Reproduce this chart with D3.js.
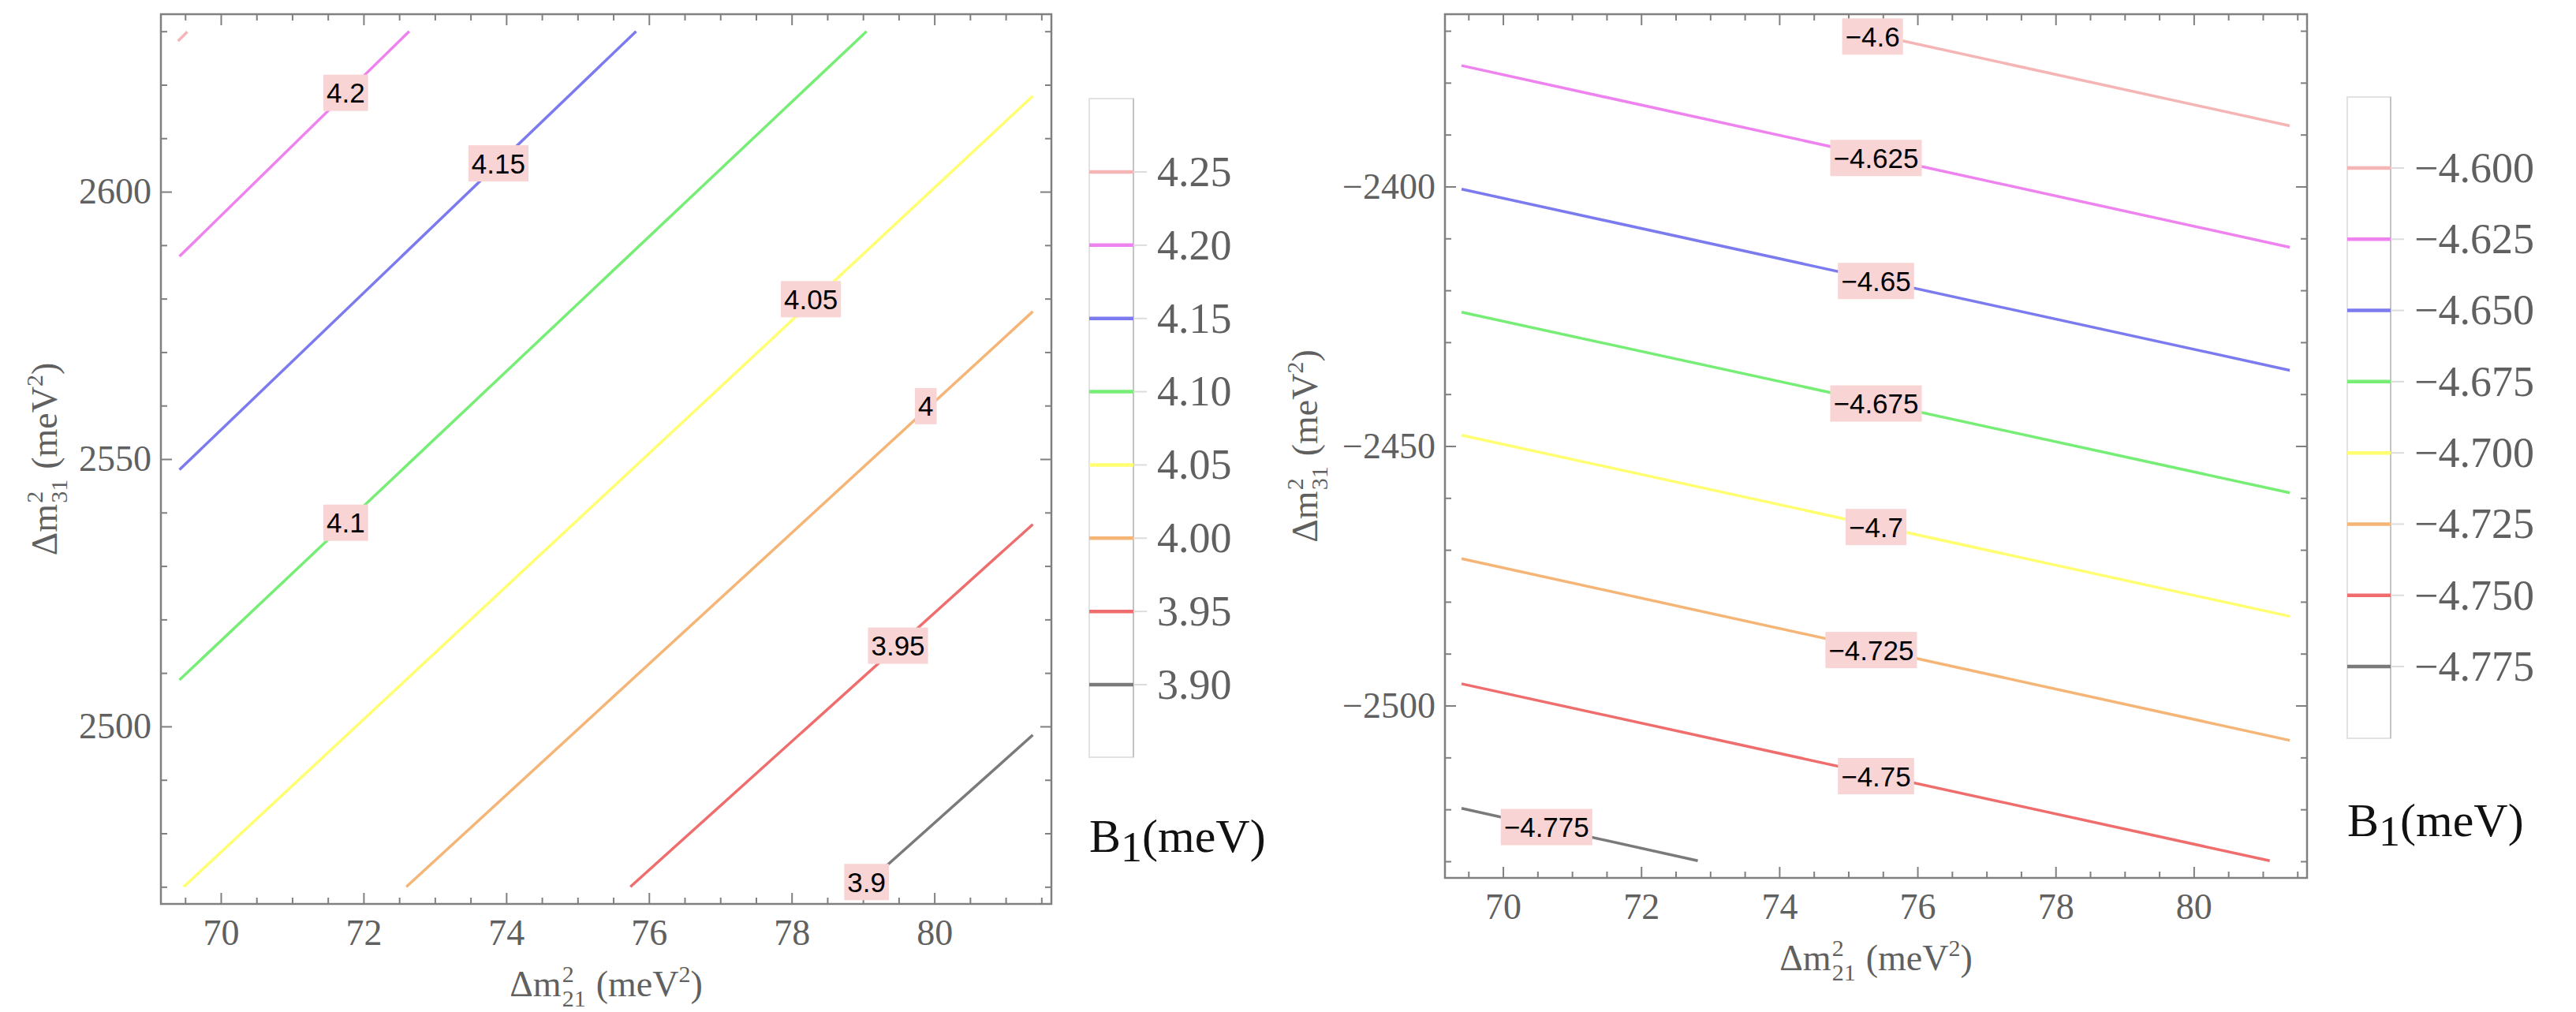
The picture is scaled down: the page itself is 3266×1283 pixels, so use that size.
<!DOCTYPE html>
<html>
<head>
<meta charset="utf-8">
<script src="https://cdn.jsdelivr.net/npm/d3@7"></script>
<style>
  body { margin: 0; background: #fff; }
  svg { display: block; }
</style>
</head>
<body>
<svg id="chart" width="3266" height="1283"></svg>
<script>
// ---- data ----
var xMajorTicks = [70, 72, 74, 76, 78, 80];
var xRange = [69.4, 81.4];

// left panel (normal ordering)
var leftYRange = [2470, 2630];
var leftYMajorTicks = [2500, 2550, 2600];
var leftLevels = [4.25, 4.20, 4.15, 4.10, 4.05, 4.00, 3.95, 3.90];
var leftLegendText = ['4.25', '4.20', '4.15', '4.10', '4.05', '4.00', '3.95', '3.90'];
var leftLineStart = [[69.40, 2628.2], [69.42, 2587.9], [69.42, 2548.0], [69.42, 2508.7],
                     [69.48, 2470.0], [72.60, 2470.0], [75.74, 2470.0], [79.00, 2470.0]];
var leftLineEnd = [[69.53, 2629.9], [72.64, 2630.0], [75.82, 2630.0], [79.05, 2630.0],
                   [81.38, 2617.9], [81.38, 2577.6], [81.38, 2537.8], [81.38, 2498.4]];
var leftLabelText = [null, '4.2', '4.15', '4.1', '4.05', '4', '3.95', '3.9'];
var leftLabelPos = [null, [71.75, 2618.5], [73.89, 2605.3], [71.75, 2538.1],
                    [78.27, 2579.9], [79.88, 2559.9], [79.49, 2515.1], [79.05, 2470.9]];

// right panel (inverted ordering)
var rightYRange = [-2530, -2370];
var rightYMajorTicks = [-2500, -2450, -2400];
var rightLevels = [-4.600, -4.625, -4.650, -4.675, -4.700, -4.725, -4.750, -4.775];
var rightLegendText = ['\u22124.600', '\u22124.625', '\u22124.650', '\u22124.675',
                       '\u22124.700', '\u22124.725', '\u22124.750', '\u22124.775'];
var rightLineStart = [[75.12, -2370.0], [69.40, -2376.7], [69.40, -2400.5], [69.40, -2424.2],
                      [69.40, -2447.9], [69.40, -2471.7], [69.40, -2495.8], [69.40, -2519.8]];
var rightLineEnd = [[81.39, -2388.3], [81.39, -2411.7], [81.39, -2435.4], [81.39, -2459.0],
                    [81.39, -2482.8], [81.39, -2506.7], [81.10, -2529.9], [72.82, -2529.9]];
var rightLabelText = ['\u22124.6', '\u22124.625', '\u22124.65', '\u22124.675',
                      '\u22124.7', '\u22124.725', '\u22124.75', '\u22124.775'];
var rightLabelPos = [[75.35, -2371.1], [75.40, -2394.5], [75.40, -2418.2], [75.40, -2441.8],
                     [75.40, -2465.6], [75.33, -2489.3], [75.40, -2513.6], [70.63, -2523.4]];

var contourColors = ['#f5b5b5', '#ee82ee', '#7b7bef', '#76ee76',
                     '#ffff70', '#f5b577', '#ef6d6d', '#7a7a7a'];

// ---- helpers ----
var svg = d3.select('#chart');
svg.append('rect').attr('width', 3266).attr('height', 1283).attr('fill', '#fff');

var serif = '"Liberation Serif", "Times New Roman", serif';
var sans = '"Liberation Sans", Arial, sans-serif';
var axisGray = '#808080';
var textGray = '#606060';

function padded(r) {
  var p = (r[1] - r[0]) * 0.02;
  return [r[0] - p, r[1] + p];
}

// Δm^2_ij (meV^2) with the 2 stacked over the subscript, Mathematica style
function massTitle(parent, sub, fs) {
  var small = Math.round(0.66 * fs);
  var g = parent.append('g')
    .attr('font-family', serif).attr('font-size', fs).attr('fill', textGray);
  var inner = g.append('g');
  var t1 = inner.append('text').attr('x', 0).attr('y', 0).text('\u0394m');
  var w = t1.node().getComputedTextLength();
  inner.append('text').attr('x', w + 1).attr('y', -0.40 * fs).attr('font-size', small).text('2');
  var s = inner.append('text').attr('x', w + 1).attr('y', 0.28 * fs).attr('font-size', small).text(sub);
  var w2 = s.node().getComputedTextLength();
  var rest = inner.append('text').attr('x', w + w2 + 14).attr('y', 0);
  rest.append('tspan').text('(meV');
  rest.append('tspan').attr('dy', -0.40 * fs).attr('font-size', small).text('2');
  rest.append('tspan').attr('dy', 0.40 * fs).text(')');
  var bb = inner.node().getBBox();
  inner.attr('transform', 'translate(' + (-bb.x - bb.width / 2) + ',0)');
  return g;
}

function drawPanel(cfg) {
  var x = d3.scaleLinear().domain(padded(xRange)).range([cfg.frame.x0, cfg.frame.x1]);
  var y = d3.scaleLinear().domain(padded(cfg.yRange)).range([cfg.frame.y1, cfg.frame.y0]);
  var g = svg.append('g');

  var xMinor = d3.range(69.5, 81.6, 0.5).filter(function(v) { return xMajorTicks.indexOf(v) < 0; });
  var yMinor = d3.range(cfg.yRange[0], cfg.yRange[1] + 1, 10)
    .filter(function(v) { return cfg.yMajor.indexOf(v) < 0; });

  // frame ticks on all four sides, pointing inward
  function styleAxis(sel) {
    sel.select('.domain').remove();
    sel.selectAll('.tick line').attr('stroke', axisGray).attr('stroke-width', 2);
    sel.selectAll('.tick text').attr('font-family', serif).attr('font-size', 46).attr('fill', textGray);
  }
  var H = cfg.frame.y1, T = cfg.frame.y0, L = cfg.frame.x0, R = cfg.frame.x1;
  g.append('g').attr('transform', 'translate(0,' + H + ')')
    .call(d3.axisBottom(x).tickValues(xMajorTicks).tickSize(-14).tickPadding(19).tickFormat(d3.format('d')))
    .call(styleAxis);
  g.append('g').attr('transform', 'translate(0,' + H + ')')
    .call(d3.axisBottom(x).tickValues(xMinor).tickSize(-8).tickFormat('')).call(styleAxis);
  g.append('g').attr('transform', 'translate(0,' + T + ')')
    .call(d3.axisTop(x).tickValues(xMajorTicks).tickSize(-14).tickFormat('')).call(styleAxis);
  g.append('g').attr('transform', 'translate(0,' + T + ')')
    .call(d3.axisTop(x).tickValues(xMinor).tickSize(-8).tickFormat('')).call(styleAxis);
  g.append('g').attr('transform', 'translate(' + L + ',0)')
    .call(d3.axisLeft(y).tickValues(cfg.yMajor).tickSize(-14).tickPadding(12).tickFormat(d3.format('d')))
    .call(styleAxis);
  g.append('g').attr('transform', 'translate(' + L + ',0)')
    .call(d3.axisLeft(y).tickValues(yMinor).tickSize(-8).tickFormat('')).call(styleAxis);
  g.append('g').attr('transform', 'translate(' + R + ',0)')
    .call(d3.axisRight(y).tickValues(cfg.yMajor).tickSize(-14).tickFormat('')).call(styleAxis);
  g.append('g').attr('transform', 'translate(' + R + ',0)')
    .call(d3.axisRight(y).tickValues(yMinor).tickSize(-8).tickFormat('')).call(styleAxis);

  g.append('rect')
    .attr('x', L).attr('y', T).attr('width', R - L).attr('height', H - T)
    .attr('fill', 'none').attr('stroke', axisGray).attr('stroke-width', 2.5);

  // contour lines
  var line = d3.line().x(function(d) { return x(d[0]); }).y(function(d) { return y(d[1]); });
  g.selectAll('path.contour')
    .data(cfg.levels)
    .join('path')
      .attr('class', 'contour')
      .attr('d', function(d, i) { return line([cfg.start[i], cfg.end[i]]); })
      .attr('fill', 'none')
      .attr('stroke', function(d, i) { return contourColors[i]; })
      .attr('stroke-width', 3.5);

  // contour labels
  cfg.labelText.forEach(function(txt, i) {
    if (!txt) return;
    var p = cfg.labelPos[i];
    var lg = g.append('g').attr('transform', 'translate(' + x(p[0]) + ',' + y(p[1]) + ')');
    var bg = lg.append('rect').attr('fill', '#f8d4d4');
    var t = lg.append('text')
      .attr('text-anchor', 'middle').attr('dy', '0.36em')
      .attr('font-family', sans).attr('font-size', 35).attr('fill', '#000')
      .text(txt);
    var w = t.node().getComputedTextLength();
    bg.attr('x', -w / 2 - 4).attr('y', -23).attr('width', w + 8).attr('height', 46);
  });

  // legend
  var lgd = cfg.legend;
  var ly = d3.scaleLinear()
    .domain([cfg.levels[0], cfg.levels[cfg.levels.length - 1]])
    .range([lgd.first, lgd.last]);
  var leg = svg.append('g');
  leg.append('rect')
    .attr('x', lgd.x0).attr('y', lgd.top).attr('width', lgd.x1 - lgd.x0).attr('height', lgd.bottom - lgd.top)
    .attr('fill', '#fff').attr('stroke', '#e2e2e2').attr('stroke-width', 2);
  leg.append('line')
    .attr('x1', lgd.x1).attr('x2', lgd.x1).attr('y1', lgd.top).attr('y2', lgd.bottom)
    .attr('stroke', '#c4c4c4').attr('stroke-width', 2);
  var entry = leg.selectAll('g.entry')
    .data(cfg.levels)
    .join('g')
      .attr('class', 'entry')
      .attr('transform', function(d) { return 'translate(0,' + ly(d) + ')'; });
  entry.append('line')
    .attr('x1', lgd.x1).attr('x2', lgd.x1 + 17)
    .attr('stroke', '#dcdcdc').attr('stroke-width', 2);
  entry.append('line')
    .attr('x1', lgd.x0).attr('x2', lgd.x1)
    .attr('stroke', function(d, i) { return contourColors[i]; })
    .attr('stroke-width', 4.5);
  entry.append('text')
    .attr('x', lgd.x1 + 30).attr('dy', '0.33em')
    .attr('font-family', serif).attr('font-size', 54).attr('fill', textGray)
    .text(function(d, i) { return cfg.legendText[i]; });

  var bt = leg.append('text')
    .attr('x', lgd.x0).attr('y', lgd.titleY)
    .attr('font-family', serif).attr('font-size', 60).attr('fill', '#111');
  bt.append('tspan').text('B');
  bt.append('tspan').attr('dy', 12).attr('font-size', 54).text('1');
  bt.append('tspan').attr('dy', -12).text('(meV)');

  // axis titles
  var xt = massTitle(svg, '21', 46);
  xt.attr('transform', 'translate(' + (L + R) / 2 + ',' + (H + 117) + ')');
  var yt = massTitle(svg, '31', 46);
  yt.attr('transform', 'translate(' + cfg.yTitleX + ',' + (T + H) / 2 + ') rotate(-90)');
}

drawPanel({
  frame: { x0: 204, x1: 1333, y0: 18, y1: 1146 },
  yRange: leftYRange,
  yMajor: leftYMajorTicks,
  levels: leftLevels,
  start: leftLineStart,
  end: leftLineEnd,
  labelText: leftLabelText,
  labelPos: leftLabelPos,
  legendText: leftLegendText,
  legend: { x0: 1381, x1: 1437, top: 125, bottom: 960, first: 218, last: 868, titleY: 1080 },
  yTitleX: 72
});

drawPanel({
  frame: { x0: 1832, x1: 2925, y0: 18, y1: 1113 },
  yRange: rightYRange,
  yMajor: rightYMajorTicks,
  levels: rightLevels,
  start: rightLineStart,
  end: rightLineEnd,
  labelText: rightLabelText,
  labelPos: rightLabelPos,
  legendText: rightLegendText,
  legend: { x0: 2976, x1: 3031, top: 123, bottom: 936, first: 213, last: 845, titleY: 1060 },
  yTitleX: 1670
});
</script>
</body>
</html>
